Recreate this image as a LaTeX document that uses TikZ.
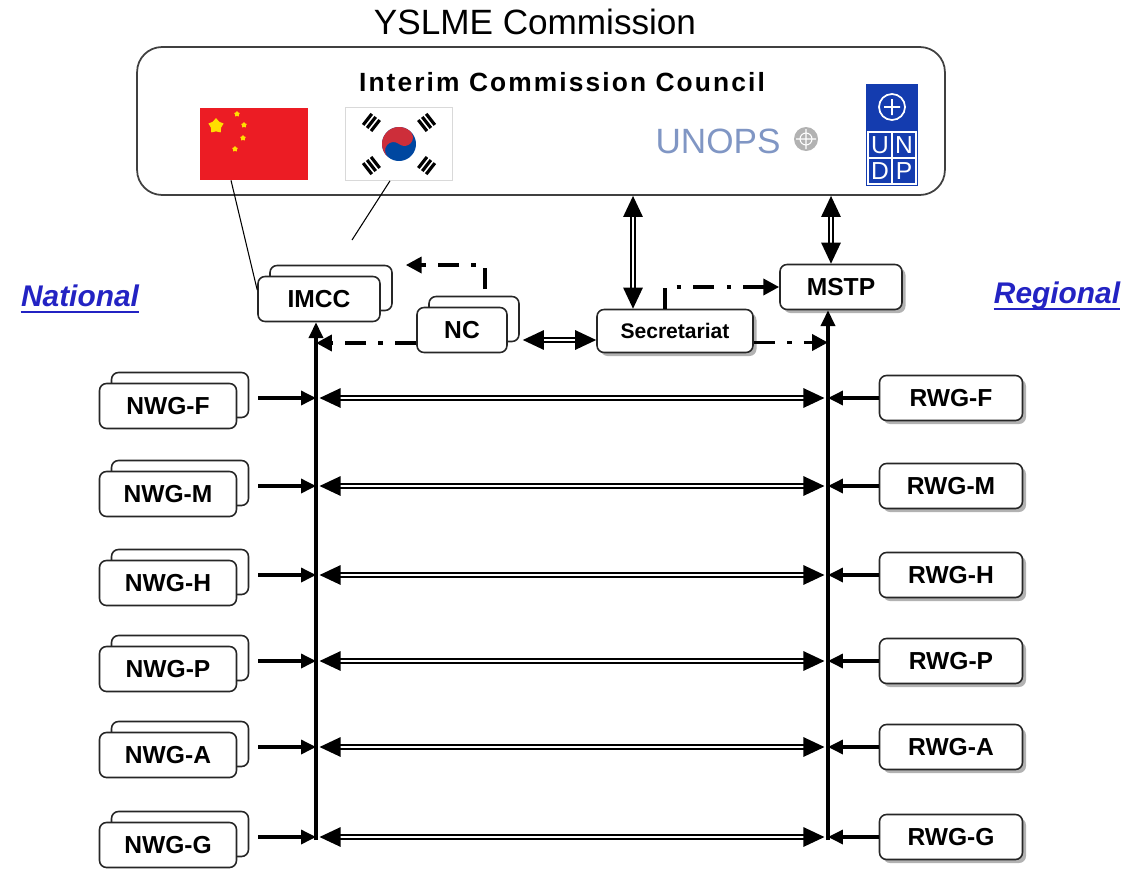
\documentclass[tikz,border=0pt]{standalone}
\usepackage{fontspec}
\setmainfont{Liberation Sans}
\newfontfamily\spacedfont[LetterSpace=8]{Liberation Sans}
\usetikzlibrary{arrows.meta,shadows,shapes.geometric}

\definecolor{linkblue}{RGB}{35,35,195}
\definecolor{cnred}{RGB}{236,28,36}
\definecolor{cnyellow}{RGB}{255,222,0}
\definecolor{krred}{RGB}{205,46,58}
\definecolor{krblue}{RGB}{0,71,160}
\definecolor{unopsblue}{RGB}{128,150,196}
\definecolor{undpblue}{RGB}{20,60,175}

\tikzset{
  council/.style={draw=black!75, line width=1pt, rounded corners=0.5cm, minimum width=16.16cm, minimum height=2.96cm},
  box/.style={draw=black!85, line width=0.9pt, rounded corners=4pt, fill=white, inner sep=0pt,
    minimum height=0.9cm, font=\bfseries\fontsize{14}{16}\selectfont},
  stackbox/.style={box, copy shadow={shadow xshift=0.24cm, shadow yshift=0.22cm}},
  shadowbox/.style={box, drop shadow={shadow xshift=2pt, shadow yshift=-2pt, fill=black!60}},
  feed/.style={line width=1.8pt, -{Triangle[length=8.5pt,width=8pt]}},
  bus/.style={line width=2pt, -{Triangle[length=9pt,width=8pt]}},
  link/.style={double, line width=1.1pt, double distance=1.3pt,
    {Triangle[length=12pt,width=11pt]}-{Triangle[length=12pt,width=11pt]}},
  dashdot/.style={line width=2.2pt, dash pattern=on 12pt off 7pt on 2.5pt off 7pt,
    -{Triangle[length=9pt,width=9pt]}},
  sidelabel/.style={text=linkblue, inner sep=0pt, font=\bfseries\itshape\fontsize{17}{19}\selectfont},
}

\begin{document}
\begin{tikzpicture}[x=0.02cm,y=-0.02cm]
\useasboundingbox (0,0) rectangle (1133,869);

\node[font=\fontsize{20}{22}\selectfont] (title) at (535,22) {YSLME Commission};
\node[council] (icc) at (541,121) {};
\node[font=\spacedfont\bfseries\fontsize{15}{17}\selectfont] (icctitle) at (562,82) {Interim Commission Council};

\node[fill=cnred, minimum width=2.16cm, minimum height=1.44cm, inner sep=0pt] (china) at (254,144) {};
\node[star, star points=5, fill=cnyellow, minimum size=0.32cm, inner sep=0pt] (cnstar) at (216,126) {};
\foreach \sx/\sy in {237/114, 244/125, 243/138, 235/149}
  \node[star, star points=5, fill=cnyellow, minimum size=0.12cm, inner sep=0pt] at (\sx,\sy) {};

\node[draw=black!15, fill=white, minimum width=2.14cm, minimum height=1.46cm, inner sep=0pt] (korea) at (399,144) {};
\begin{scope}[shift={(399,144)}, x=0.02cm, y=0.02cm, rotate=50]
\fill[krblue] (0,0) circle (17);
\fill[krred] (-17,0) arc[start angle=180, end angle=0, radius=17]
  arc[start angle=0, end angle=-180, radius=8.5]
  arc[start angle=0, end angle=180, radius=8.5] -- cycle;
\end{scope}
\begin{scope}[shift={(399,144)}, x=0.02cm, y=0.02cm]
\foreach \a in {142,38,218,322} {
  \begin{scope}[shift={(\a:35)}, rotate=\a]
  \foreach \k in {-5,0,5}
    \draw[line width=1.8pt] (\k,-7) -- (\k,7);
  \end{scope}
}
\end{scope}

\node[text=unopsblue, font=\fontsize{20}{22}\selectfont] (unops) at (718,141) {UNOPS};
\fill[gray!60] (806,139) circle (12);
\draw[white, line width=0.6pt] (806,139) circle (6) (796,139) -- (816,139) (806,129) -- (806,149);

\node[fill=undpblue, minimum width=1.04cm, minimum height=2.04cm, inner sep=0pt] (undp) at (892,135) {};
\draw[white, line width=1pt] (892,107) circle (13) (884,107) -- (900,107) (892,99) -- (892,115);
\draw[white, line width=0.8pt] (868,132) rectangle (916,184) (892,132) -- (892,184) (868,158) -- (916,158);
\foreach \lt/\lx/\ly in {U/880/145, N/904/145, D/880/171, P/904/171}
  \node[text=white, font=\fontsize{14}{14}\selectfont, inner sep=0pt] at (\lx,\ly) {\lt};

\node[stackbox, minimum width=2.44cm] (imcc) at (319,299) {IMCC};
\node[stackbox, minimum width=1.8cm] (nc) at (462,330) {NC};
\node[shadowbox, minimum width=3.12cm, minimum height=0.86cm, font=\bfseries\fontsize{12}{14}\selectfont] (secr) at (675,331) {Secretariat};
\node[shadowbox, minimum width=2.44cm] (mstp) at (841,287) {MSTP};

\node[sidelabel] (nat) at (80,296) {National};
\draw[linkblue, line width=1.3pt] ([yshift=-3pt]nat.base west) -- ([yshift=-3pt]nat.base east);
\node[sidelabel] (reg) at (1057,296) {Regional};
\draw[linkblue, line width=1.3pt] ([yshift=-3pt]reg.base west) -- ([yshift=-3pt]reg.base east);

\draw[line width=0.6pt] ([xshift=-0.46cm]china.south) -- ([yshift=0.18cm]imcc.west);
\coordinate (krend) at (352,240);
\draw[line width=0.6pt] ([xshift=-0.18cm]korea.south) -- (krend);

\coordinate (lbot) at (316,840);
\coordinate (rbot) at (828,840);
\draw[bus] (lbot) -- (lbot |- imcc.south);
\draw[bus] (rbot) -- (rbot |- mstp.south);

\foreach \n/\y in {F/398, M/486, H/575, P/661, A/747, G/837} {
  \node[stackbox, minimum width=2.74cm] (nwg\n) at (168,\y+8) {NWG-\n};
  \node[shadowbox, minimum width=2.86cm] (rwg\n) at (951,\y) {RWG-\n};
  \coordinate (lb\n) at (316,\y);
  \coordinate (rb\n) at (828,\y);
  \draw[feed, shorten <=0.42cm] (nwg\n.east |- lb\n) -- (lb\n);
  \draw[feed] (rwg\n.west) -- (rb\n);
  \draw[link, shorten <=2pt, shorten >=2pt] (lb\n) -- (rb\n);
}

\coordinate (secup) at ([xshift=-0.84cm]secr.north);
\draw[link] (secup) -- (secup |- icc.south);
\coordinate (mstpup) at ([xshift=-0.2cm]mstp.north);
\draw[link] (mstpup) -- (mstpup |- icc.south);
\coordinate (ncr) at ([yshift=-0.2cm]nc.east);
\draw[link, shorten <=0.3cm] (ncr) -- (ncr -| secr.west);

\coordinate (nctop) at ([xshift=0.46cm,yshift=0.35cm]nc.north);
\coordinate (imccin) at ([xshift=0.5cm,yshift=0.68cm]imcc.east);
\draw[dashdot] (nctop) |- (imccin);
\coordinate (ncl) at ([yshift=-0.26cm]nc.west);
\draw[dashdot] (ncl) -- (ncl -| lbot);
\coordinate (secdot) at ([xshift=-0.2cm]secr.north);
\draw[dashdot] (secdot) |- (mstp.west);
\coordinate (secrr) at ([yshift=-0.23cm]secr.east);
\draw[dashdot] (secrr) -- (secrr -| rbot);
\end{tikzpicture}
\end{document}
